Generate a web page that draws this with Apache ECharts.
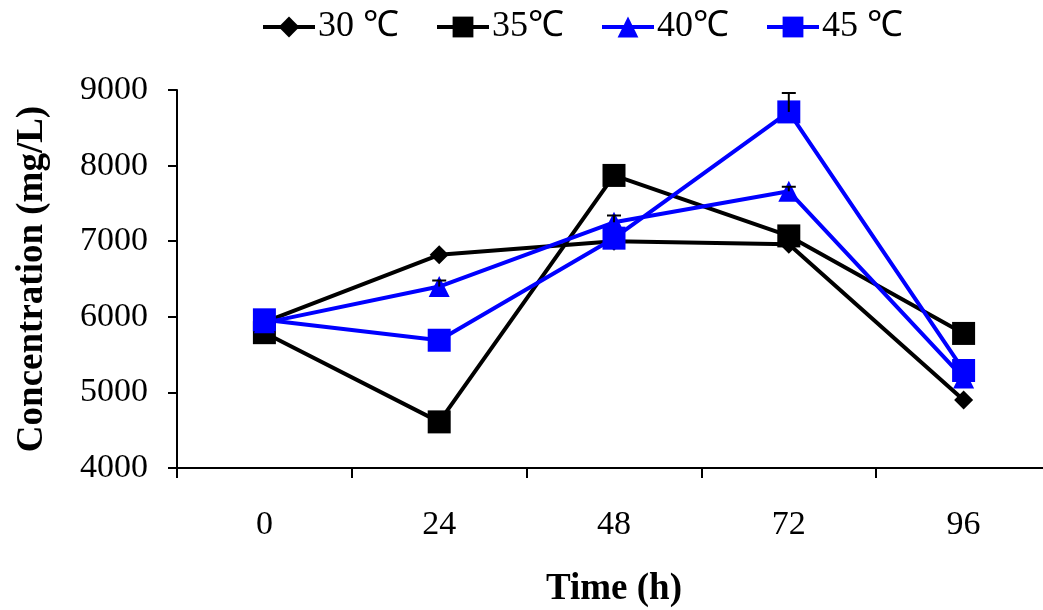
<!DOCTYPE html>
<html>
<head>
<meta charset="utf-8">
<script src="https://cdn.jsdelivr.net/npm/echarts@6/dist/echarts.min.js"></script>
<style>
  html, body { margin: 0; padding: 0; background: #fff; }
  #chart { width: 1043px; height: 610px; }
</style>
</head>
<body>
<div id="chart"></div>
<script>
// Sampling times (h)
const times = ['0', '24', '48', '72', '96'];

// Concentration (mg/L) at each temperature
const t30 = [5930, 6820, 7000, 6960, 4900];
const t35 = [5790, 4610, 7870, 7070, 5780];
const t40 = [5920, 6400, 7250, 7660, 5190];
const t45 = [5960, 5690, 7040, 8710, 5290];

// Upper error (mg/L), shown for the blue series
const err40 = [0, 80, 90, 60, 0];
const err45 = [0, 0, 0, 250, 0];

const seriesNames = ['30 \u2103', '35\u2103', '40\u2103', '45 \u2103'];

const FONT = '"Liberation Serif", "Times New Roman", serif';

function errorSeries(name, values, errs) {
  return {
    name: name + ' err',
    type: 'custom',
    silent: true,
    z: 5,
    data: values.map((v, i) => [i, v, v + errs[i]]),
    renderItem: function (params, api) {
      const top = api.value(2), mid = api.value(1);
      if (top <= mid) return null;
      const p0 = api.coord([api.value(0), mid]);
      const p1 = api.coord([api.value(0), top]);
      const half = 7;
      return {
        type: 'group',
        children: [
          { type: 'line', shape: { x1: p0[0], y1: p0[1], x2: p1[0], y2: p1[1] }, style: { stroke: '#000', lineWidth: 2 } },
          { type: 'line', shape: { x1: p1[0] - half, y1: p1[1], x2: p1[0] + half, y2: p1[1] }, style: { stroke: '#000', lineWidth: 2 } }
        ]
      };
    }
  };
}

function lineSeries(name, values, color, symbol, size) {
  return {
    name: name,
    type: 'line',
    data: values,
    symbol: symbol,
    symbolSize: size,
    showAllSymbol: true,
    lineStyle: { color: color, width: 4 },
    itemStyle: { color: color },
    z: 3
  };
}

const chart = echarts.init(document.getElementById('chart'), null, { renderer: 'canvas' });

chart.setOption({
  animation: false,
  backgroundColor: '#fff',
  textStyle: { fontFamily: FONT },
  legend: {
    data: seriesNames,
    top: 4,
    left: 256,
    itemWidth: 52,
    itemHeight: 26,
    itemGap: 36,
    lineStyle: { width: 4 },
    textStyle: { fontFamily: FONT, fontSize: 36, color: '#000', padding: [0, 0, 0, -2] }
  },
  grid: { left: 177, right: -8, top: 90, bottom: 142, containLabel: false, outerBoundsMode: 'none' },
  xAxis: {
    type: 'category',
    data: times,
    boundaryGap: true,
    name: 'Time (h)',
    nameLocation: 'middle',
    nameGap: 103,
    nameTextStyle: { fontFamily: FONT, fontSize: 37, fontWeight: 'bold', color: '#000' },
    axisLine: { lineStyle: { color: '#000', width: 2 } },
    axisTick: { show: true, length: 10, lineStyle: { color: '#000', width: 2 } },
    axisLabel: { fontFamily: FONT, fontSize: 34, color: '#000', margin: 40 },
    splitLine: { show: false }
  },
  yAxis: {
    type: 'value',
    min: 4000,
    max: 9000,
    interval: 1000,
    name: 'Concentration (mg/L)',
    nameLocation: 'middle',
    nameGap: 126,
    nameRotate: 90,
    nameTextStyle: { fontFamily: FONT, fontSize: 37, fontWeight: 'bold', color: '#000' },
    axisLine: { show: true, lineStyle: { color: '#000', width: 2 } },
    axisTick: { show: true, length: 9, lineStyle: { color: '#000', width: 2 } },
    axisLabel: { fontFamily: FONT, fontSize: 34, color: '#000', margin: 29, formatter: v => String(v) },
    splitLine: { show: false }
  },
  series: [
    lineSeries(seriesNames[0], t30, '#000000', 'diamond', 19),
    lineSeries(seriesNames[1], t35, '#000000', 'rect', 23),
    lineSeries(seriesNames[2], t40, '#0000ff', 'triangle', 21),
    lineSeries(seriesNames[3], t45, '#0000ff', 'rect', 23),
    errorSeries(seriesNames[2], t40, err40),
    errorSeries(seriesNames[3], t45, err45)
  ]
});
</script>
</body>
</html>
